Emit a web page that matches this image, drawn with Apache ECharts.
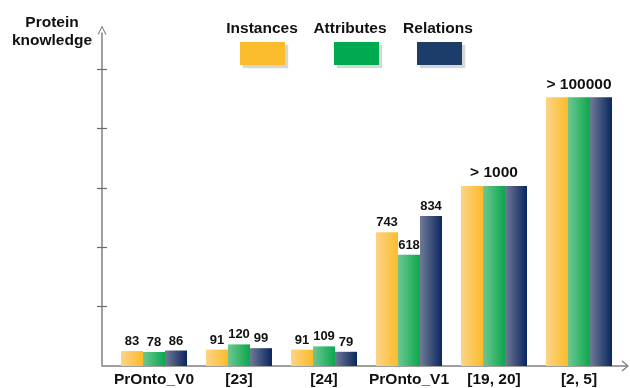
<!DOCTYPE html>
<html>
<head>
<meta charset="utf-8">
<script src="https://cdn.jsdelivr.net/npm/echarts@6/dist/echarts.min.js"></script>
<style>
  html, body { margin: 0; padding: 0; background: #ffffff; }
  #chart { width: 630px; height: 388px; }
</style>
</head>
<body>
<div id="chart"></div>
<script>
// ---- data ----
const categories = ['PrOnto_V0', '[23]', '[24]', 'PrOnto_V1', '[19, 20]', '[2, 5]'];
const seriesNames = ['Instances', 'Attributes', 'Relations'];
const instances  = [83, 91, 91, 743, 1000, 100000];
const attributes = [78, 120, 109, 618, 1000, 100000];
const relations  = [86, 99, 79, 834, 1000, 100000];
// groups from this index on are only known as a lower bound ("> n")
const lowerBoundFrom = 4;
// unlabeled tick marks on the value axis
const yTicks = [330, 660, 990, 1320, 100157];
// value axis is cut so the 100000 group fits on the same scale
const yBreak = { start: 1400, end: 99950, gap: 43 };
const yMax = 100357;

// ---- styling / layout ----
const FONT = '"Liberation Sans", Arial, Helvetica, sans-serif';
const GRID = { left: 111.5, right: 8.5, top: 33, bottom: 22 };
const AXIS_X_OFFSET = 9.5;   // visible axis line sits left of the plot area
const TICK_HALF = 5;         // ticks cross the axis line
const AXIS_COLOR = '#7f7f7f';
const TICK_COLOR = '#6b6b6b';
const palette = [
  { solid: '#FBBC2C', from: '#FDD488', to: '#FBBB2A' },
  { solid: '#00AA50', from: '#6DC892', to: '#0CA74E' },
  { solid: '#1C3C6A', from: '#717B96', to: '#0A2660' }
];
const legendLeft = [240, 334, 417];
const legendTextX = [262, 350, 438];

function gradient(c) {
  return new echarts.graphic.LinearGradient(0, 0, 1, 0, [
    { offset: 0, color: c.from },
    { offset: 1, color: c.to }
  ]);
}

const values = [instances, attributes, relations];
const chevronUp = 'path://M0,10 L5,0 L10,10 L8.6,10 L5,2.6 L1.4,10 Z';
const baseY = 388 - GRID.bottom;

const chart = echarts.init(document.getElementById('chart'), null, { renderer: 'canvas' });

const option = {
  backgroundColor: '#ffffff',
  animation: false,
  grid: GRID,
  legend: seriesNames.map((name, i) => ({
    left: legendLeft[i],
    top: 42,
    padding: 0,
    itemWidth: 45,
    itemHeight: 23,
    icon: 'rect',
    selectedMode: false,
    formatter: () => '',
    data: [{
      name: name,
      itemStyle: {
        color: palette[i].solid,
        shadowColor: 'rgba(0,0,0,0.16)',
        shadowOffsetX: 3,
        shadowOffsetY: 3,
        shadowBlur: 1
      }
    }]
  })),
  xAxis: {
    type: 'category',
    data: categories,
    axisLine: { show: false },
    axisTick: { show: false },
    axisLabel: {
      interval: 0,
      margin: 6,
      color: '#111',
      fontFamily: FONT,
      fontWeight: 'bold',
      fontSize: 15.5
    }
  },
  yAxis: [
    {
      // value scale of the bars (with the cut); draws the tick marks only
      type: 'value',
      min: 0,
      max: yMax,
      breaks: [yBreak],
      breakArea: { show: false },
      position: 'left',
      offset: AXIS_X_OFFSET - TICK_HALF,
      axisLine: { show: false },
      axisLabel: { show: false },
      splitLine: { show: false },
      axisTick: {
        show: true,
        customValues: yTicks,
        length: TICK_HALF * 2,
        lineStyle: { color: TICK_COLOR, width: 1.2 }
      },
      name: 'Protein\nknowledge',
      nameLocation: 'end',
      nameGap: -17,
      nameTextStyle: {
        color: '#111',
        fontFamily: FONT,
        fontWeight: 'bold',
        fontSize: 15.5,
        lineHeight: 18,
        align: 'center',
        padding: [0, 110, 0, 0]
      }
    },
    {
      // continuous axis line with the arrow head
      type: 'value',
      min: 0,
      max: 1,
      position: 'left',
      offset: AXIS_X_OFFSET,
      axisLabel: { show: false },
      axisTick: { show: false },
      splitLine: { show: false },
      axisLine: {
        show: true,
        lineStyle: { color: AXIS_COLOR, width: 1.5 },
        symbol: ['none', chevronUp],
        symbolSize: [9, 9],
        symbolOffset: [0, 3]
      }
    }
  ],
  graphic: [
    {
      type: 'polyline',
      silent: true,
      shape: { points: [[GRID.left - AXIS_X_OFFSET, baseY], [628, baseY]] },
      style: { stroke: AXIS_COLOR, lineWidth: 1.5, fill: null }
    },
    {
      type: 'polyline',
      silent: true,
      shape: { points: [[622, baseY - 5], [628, baseY], [622, baseY + 5]] },
      style: { stroke: AXIS_COLOR, lineWidth: 1.3, fill: null }
    }
  ].concat(seriesNames.map((name, i) => ({
    type: 'text',
    silent: true,
    x: legendTextX[i],
    y: 29,
    style: {
      text: name,
      fill: '#111',
      font: 'bold 15.5px ' + FONT,
      textAlign: 'center',
      textVerticalAlign: 'middle'
    }
  }))),
  series: seriesNames.map((name, i) => ({
    name: name,
    type: 'bar',
    yAxisIndex: 0,
    data: values[i],
    barWidth: 22,
    barGap: '0%',
    itemStyle: { color: gradient(palette[i]) },
    label: {
      show: true,
      position: 'top',
      distance: 3,
      color: '#111',
      fontFamily: FONT,
      fontWeight: 'bold',
      fontSize: 13,
      formatter: p => {
        if (p.dataIndex < lowerBoundFrom) return String(p.value);
        return i === 1 ? '{big|> ' + p.value + '}' : '';
      },
      rich: {
        big: { fontFamily: FONT, fontWeight: 'bold', fontSize: 15.5, color: '#111', padding: [0, 0, 2, 0] }
      }
    }
  }))
};

chart.setOption(option);
</script>
</body>
</html>
